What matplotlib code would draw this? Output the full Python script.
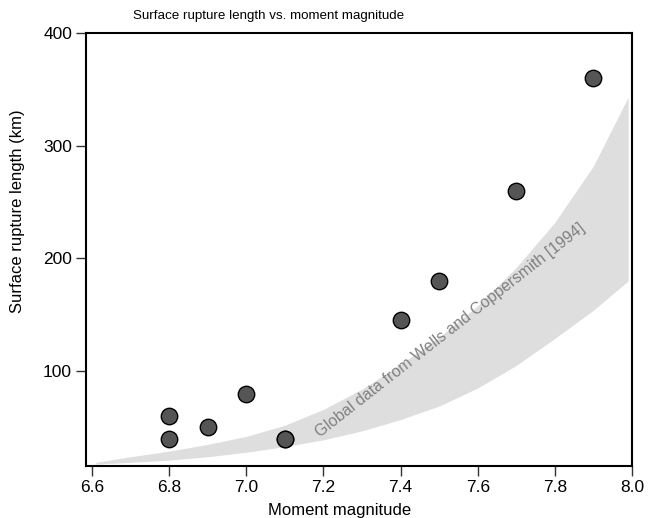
import matplotlib
matplotlib.use('Agg')
import matplotlib.pyplot as plt

plt.rcParams['font.family'] = ['Liberation Sans', 'DejaVu Sans']

# observed events
magnitude = [6.8, 6.8, 6.9, 7.0, 7.1, 7.1, 7.4, 7.5, 7.7, 7.9]
rupture_km = [60, 40, 50, 80, 40, 40, 145, 180, 260, 360]

# Wells and Coppersmith [1994] band
band_m = [6.61, 6.7, 6.8, 6.9, 7.0, 7.1, 7.2, 7.3, 7.4, 7.5, 7.6, 7.7, 7.8, 7.9, 7.99]
band_upper = [19, 24, 29, 35, 42, 52, 66, 84, 106, 130, 158, 192, 232, 282, 343]
band_lower = [17.5, 19, 21, 24, 28, 33, 39, 47, 57, 69, 85, 105, 129, 154, 180]

fig = plt.figure(figsize=(6.48, 5.18), dpi=100)
ax = fig.add_axes([0.1327, 0.1004, 0.8426, 0.8359])

ax.fill_between(band_m, band_lower, band_upper, color='#dedede', linewidth=0, zorder=1)
ax.text(7.53, 136, 'Global data from Wells and Coppersmith [1994]', rotation=38,
        rotation_mode='anchor', ha='center', va='center', color='#808080', fontsize=11.5, zorder=2)

ax.scatter(magnitude, rupture_km, s=140, facecolor='#555555', edgecolor='black',
           linewidth=1, zorder=3)

ax.set_xlim(6.5844, 8.0)
ax.set_ylim(15.8, 400)
ax.set_xticks([6.6, 6.8, 7.0, 7.2, 7.4, 7.6, 7.8, 8.0])
ax.set_xticklabels(['6.6', '6.8', '7.0', '7.2', '7.4', '7.6', '7.8', '8.0'])
ax.set_yticks([100, 200, 300, 400])
ax.tick_params(direction='out', length=7, width=1, labelsize=12.5, color='#333333', pad=3)
for s in ax.spines.values():
    s.set_linewidth(1.5)

ax.set_xlabel('Moment magnitude', fontsize=12, va='center')
ax.xaxis.set_label_coords(0.465, -0.102)
ax.set_ylabel('Surface rupture length (km)', fontsize=12, va='center')
ax.yaxis.set_label_coords(-0.125, 0.589)
fig.text(0.414, 0.97, 'Surface rupture length vs. moment magnitude', ha='center',
         va='center', fontsize=9.6)

fig.savefig('out.png', dpi=100)
